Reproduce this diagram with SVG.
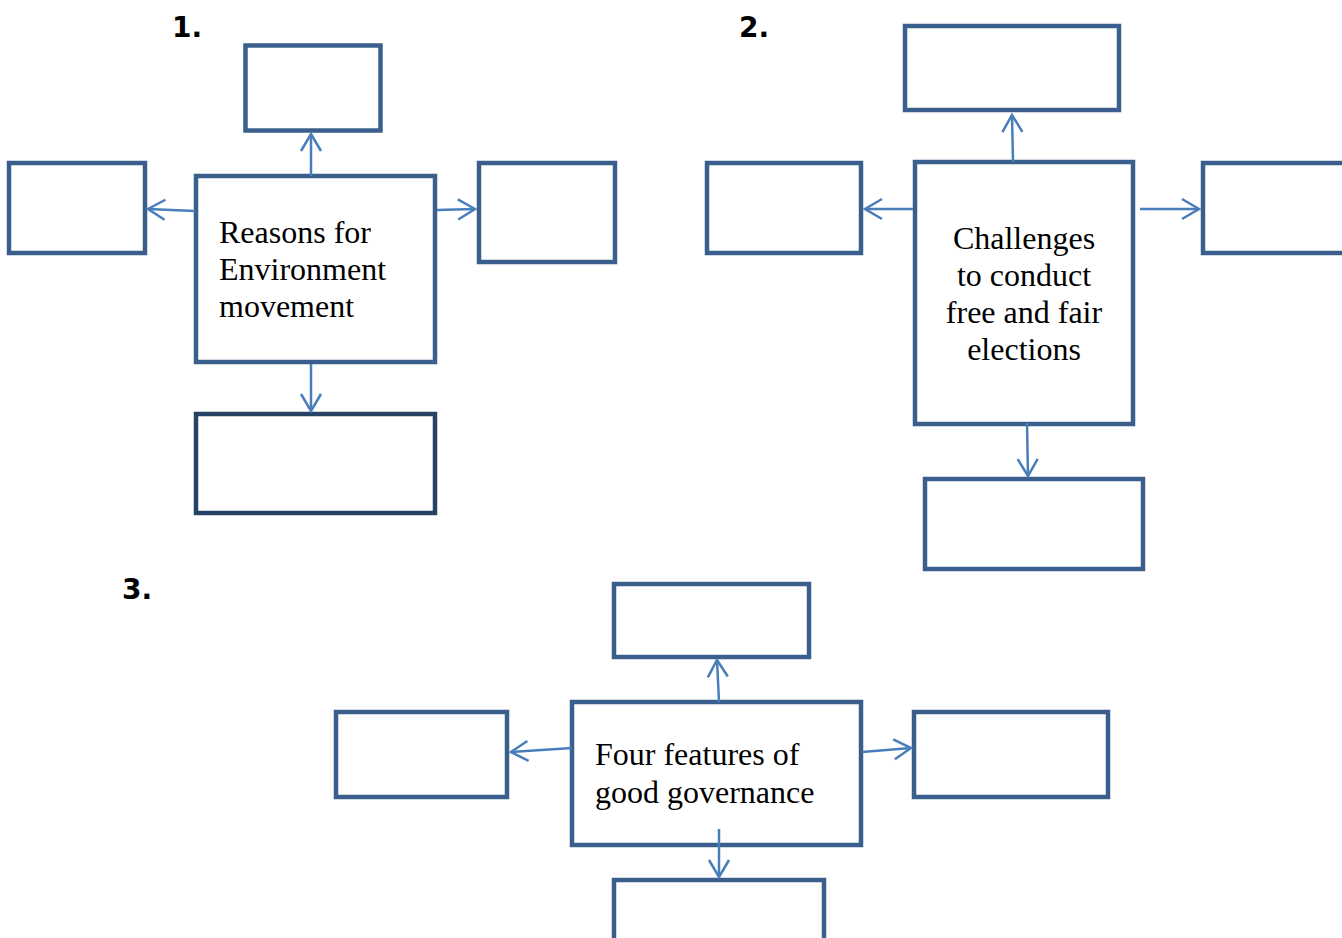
<svg xmlns="http://www.w3.org/2000/svg" width="1342" height="938" viewBox="0 0 1342 938">
  <defs>
    <marker id="ah" markerUnits="userSpaceOnUse" markerWidth="24" markerHeight="24" viewBox="-20 -12 24 24" refX="0" refY="0" orient="auto" overflow="visible">
      <path d="M-17,-10 L0,0 L-17,10" fill="none" stroke="#4a7ebb" stroke-width="2.5"/>
    </marker>
    <style>
      .box { fill: #ffffff; stroke: #3a5f8d; stroke-width: 4.5; }
      .dark { stroke: #264366; }
      .conn line { stroke: #4a7ebb; stroke-width: 2.5; marker-end: url(#ah); }
      .lbl { font-family: "Liberation Serif", "Times New Roman", serif; font-size: 32px; fill: #000000; }
      .num { font-family: "DejaVu Sans", sans-serif; font-weight: bold; font-size: 28px; fill: #000000; }
    </style>
  </defs>
  <rect width="1342" height="938" fill="#ffffff"/>

  <!-- section numbers -->
  <text class="num" x="172" y="37">1.</text>
  <text class="num" x="739" y="37">2.</text>
  <text class="num" x="122" y="599">3.</text>

  <!-- map 1: Reasons for Environment movement -->
  <g id="m1-center">
    <rect class="box" x="196" y="176" width="239" height="186"/>
    <text class="lbl" x="219" y="243">Reasons for</text>
    <text class="lbl" x="219" y="280">Environment</text>
    <text class="lbl" x="219" y="317">movement</text>
  </g>
  <g id="m1-top"><rect class="box" x="245.5" y="45.5" width="135" height="85"/></g>
  <g id="m1-left"><rect class="box" x="9" y="163" width="136" height="90"/></g>
  <g id="m1-right"><rect class="box" x="479" y="163" width="136" height="99"/></g>
  <g id="m1-bottom"><rect class="box dark" x="196" y="414" width="239" height="99"/></g>

  <!-- map 2: Challenges to conduct free and fair elections -->
  <g id="m2-center">
    <rect class="box" x="915" y="162" width="218" height="262"/>
    <text class="lbl" x="1024" y="249" text-anchor="middle">Challenges</text>
    <text class="lbl" x="1024" y="286" text-anchor="middle">to conduct</text>
    <text class="lbl" x="1024" y="323" text-anchor="middle">free and fair</text>
    <text class="lbl" x="1024" y="360" text-anchor="middle">elections</text>
  </g>
  <g id="m2-top"><rect class="box" x="905" y="26" width="214" height="84"/></g>
  <g id="m2-left"><rect class="box" x="707" y="163" width="154" height="90"/></g>
  <g id="m2-right"><rect class="box" x="1203" y="163" width="160" height="90"/></g>
  <g id="m2-bottom"><rect class="box" x="925" y="479" width="218" height="90"/></g>

  <!-- map 3: Four features of good governance -->
  <g id="m3-center">
    <rect class="box" x="572" y="702" width="289" height="143"/>
    <text class="lbl" x="595" y="765">Four features of</text>
    <text class="lbl" x="595" y="803">good governance</text>
  </g>
  <g id="m3-top"><rect class="box" x="614" y="584" width="195" height="73"/></g>
  <g id="m3-left"><rect class="box" x="336" y="712" width="171" height="85"/></g>
  <g id="m3-right"><rect class="box" x="914" y="712" width="194" height="85"/></g>
  <g id="m3-bottom"><rect class="box" x="614" y="880" width="210" height="100"/></g>

  <!-- connectors, drawn over the box borders -->
  <g id="connectors" class="conn">
    <!-- map 1 -->
    <line x1="311" y1="176" x2="311" y2="134"/>
    <line x1="195" y1="211" x2="148" y2="209"/>
    <line x1="437" y1="210" x2="475" y2="209"/>
    <line x1="311" y1="364" x2="311" y2="411"/>
    <!-- map 2 -->
    <line x1="1013" y1="162" x2="1012" y2="115"/>
    <line x1="913" y1="209" x2="865" y2="209"/>
    <line x1="1140" y1="209" x2="1199" y2="209"/>
    <line x1="1027" y1="423" x2="1028" y2="476"/>
    <!-- map 3 -->
    <line x1="719" y1="702" x2="717" y2="660"/>
    <line x1="572" y1="748" x2="511" y2="752"/>
    <line x1="862" y1="752" x2="911" y2="748"/>
    <line x1="719" y1="829" x2="719" y2="877"/>
  </g>
</svg>
